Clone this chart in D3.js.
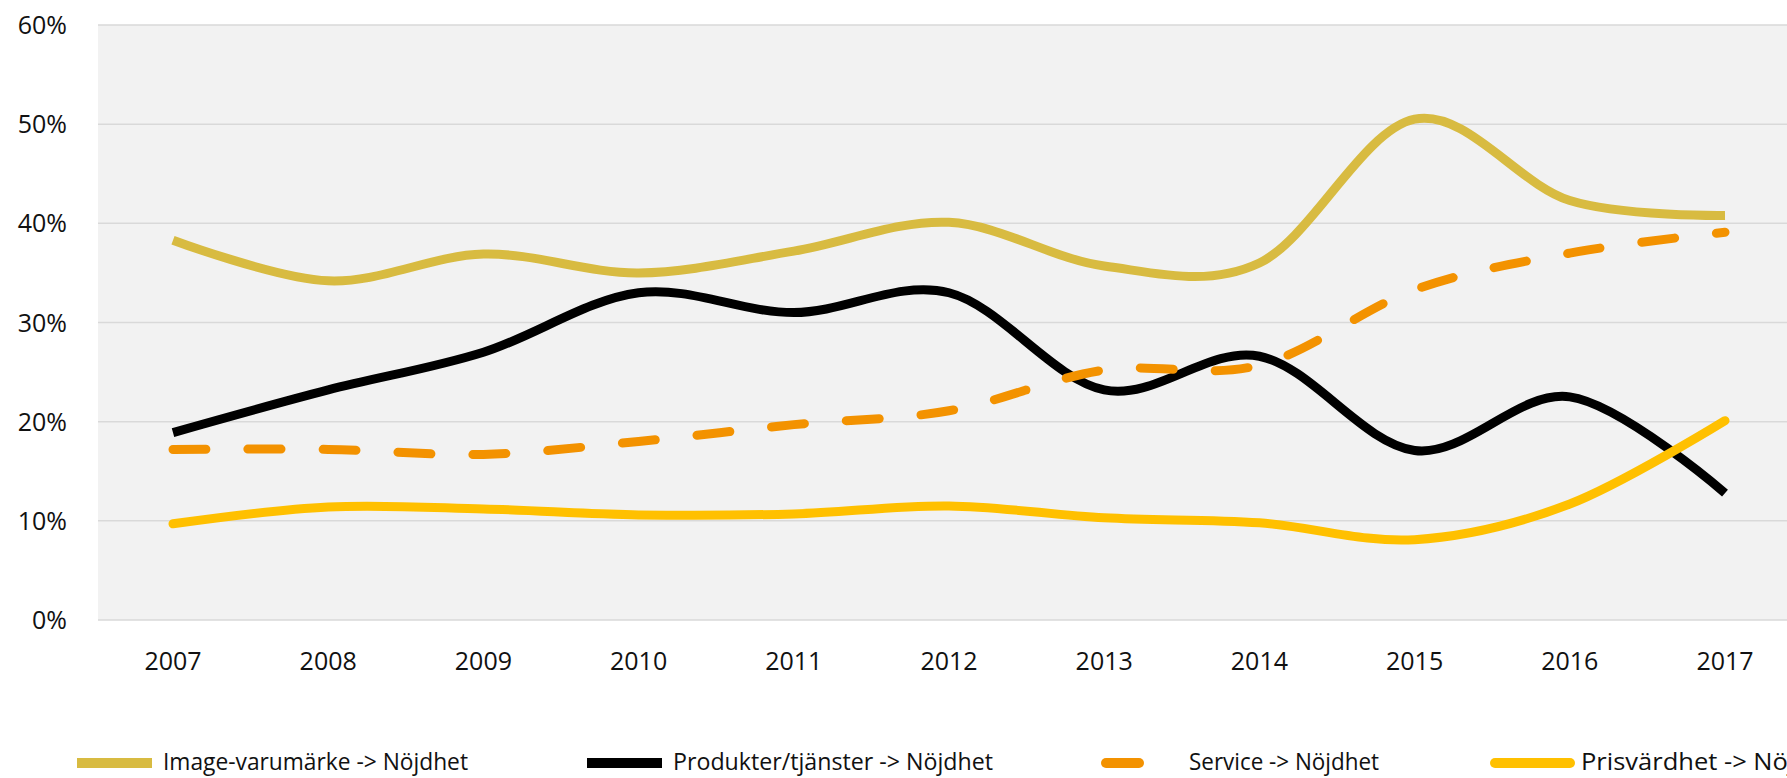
<!DOCTYPE html>
<html>
<head>
<meta charset="utf-8">
<script src="https://cdn.jsdelivr.net/npm/d3@7/dist/d3.min.js"></script>
<style>
  body { margin: 0; background: #fff; }
  svg text { font-family: "Open Sans", "Noto Sans", sans-serif; fill: #111; }
</style>
</head>
<body>
<svg id="chart"></svg>
<script>
// years on the category axis
const years = ['2007', '2008', '2009', '2010', '2011', '2012', '2013', '2014', '2015', '2016', '2017'];

// values (share, 0..1)
const imageVarumarke = [0.383, 0.342, 0.369, 0.350, 0.372, 0.401, 0.357, 0.360, 0.505, 0.423, 0.408];
const produkter      = [0.189, 0.232, 0.270, 0.330, 0.310, 0.330, 0.232, 0.266, 0.171, 0.225, 0.128];
const service        = [0.172, 0.172, 0.167, 0.180, 0.197, 0.211, 0.252, 0.257, 0.333, 0.370, 0.391];
const prisvardhet    = [0.097, 0.114, 0.112, 0.106, 0.107, 0.115, 0.103, 0.098, 0.081, 0.117, 0.201];

const seriesNames = ['Image-varumärke -> Nöjdhet', 'Produkter/tjänster -> Nöjdhet', 'Service -> Nöjdhet', 'Prisvärdhet  -> Nöjdhet'];
const yTicks = [0, 0.1, 0.2, 0.3, 0.4, 0.5, 0.6];

const W = 1787, H = 778;
const plot = { left: 98, top: 25, bottom: 620 };

const svg = d3.select('#chart').attr('width', W).attr('height', H);

const x = d3.scalePoint().domain(years).range([173, 1725]);
const y = d3.scaleLinear().domain([0, 0.6]).range([plot.bottom, plot.top]);

// plot background
svg.append('rect')
  .attr('x', plot.left).attr('y', plot.top)
  .attr('width', W - plot.left).attr('height', plot.bottom - plot.top)
  .attr('fill', '#f2f2f2');

// gridlines
svg.selectAll('.grid').data(yTicks).join('line')
  .attr('class', 'grid')
  .attr('x1', plot.left).attr('x2', W)
  .attr('y1', d => y(d)).attr('y2', d => y(d))
  .attr('stroke', '#d9d9d9')
  .attr('stroke-width', 1.5);

// y labels
svg.selectAll('.ylab').data(yTicks).join('text')
  .attr('class', 'ylab')
  .attr('x', 67)
  .attr('y', d => y(d))
  .attr('dy', '0.36em')
  .attr('text-anchor', 'end')
  .attr('font-size', 25)
  .text(d3.format('.0%'));

// x labels
svg.selectAll('.xlab').data(years).join('text')
  .attr('class', 'xlab')
  .attr('x', d => x(d))
  .attr('y', 670)
  .attr('text-anchor', 'middle')
  .attr('font-size', 25)
  .text(d => d);

const styles = [
  { color: '#d8bb41', dash: null, cap: 'butt' },
  { color: '#000000', dash: null, cap: 'butt' },
  { color: '#f39200', dash: '33,42', cap: 'round' },
  { color: '#ffc000', dash: null, cap: 'round' }
];
const allSeries = [imageVarumarke, produkter, service, prisvardhet];

const line = d3.line()
  .curve(d3.curveCatmullRom.alpha(0))
  .x((d, i) => x(years[i]))
  .y(d => y(d));

svg.selectAll('.series').data(allSeries).join('path')
  .attr('class', 'series')
  .attr('d', d => line(d))
  .attr('fill', 'none')
  .attr('stroke', (d, i) => styles[i].color)
  .attr('stroke-width', 9)
  .attr('stroke-linecap', (d, i) => styles[i].cap)
  .attr('stroke-dasharray', (d, i) => styles[i].dash);

// legend
const legendY = 761;
const legendX = [77, 587, 1102, 1495];
const legendTextW = [305, 320, 190, 268];
const lg = svg.selectAll('.legend').data(seriesNames).join('g')
  .attr('class', 'legend')
  .attr('transform', (d, i) => `translate(${legendX[i]}, ${legendY})`);

lg.append('line')
  .attr('x1', (d, i) => i === 2 ? 4 : 0)
  .attr('x2', 75)
  .attr('y1', 2).attr('y2', 2)
  .attr('stroke', (d, i) => styles[i].color)
  .attr('stroke-width', 10)
  .attr('stroke-linecap', (d, i) => styles[i].cap)
  .attr('stroke-dasharray', (d, i) => styles[i].dash);

lg.append('text')
  .attr('x', (d, i) => i === 2 ? 87 : 86)
  .attr('dy', '0.36em')
  .attr('font-size', 24)
  .attr('textLength', (d, i) => legendTextW[i])
  .attr('lengthAdjust', 'spacingAndGlyphs')
  .text(d => d);
</script>
</body>
</html>
